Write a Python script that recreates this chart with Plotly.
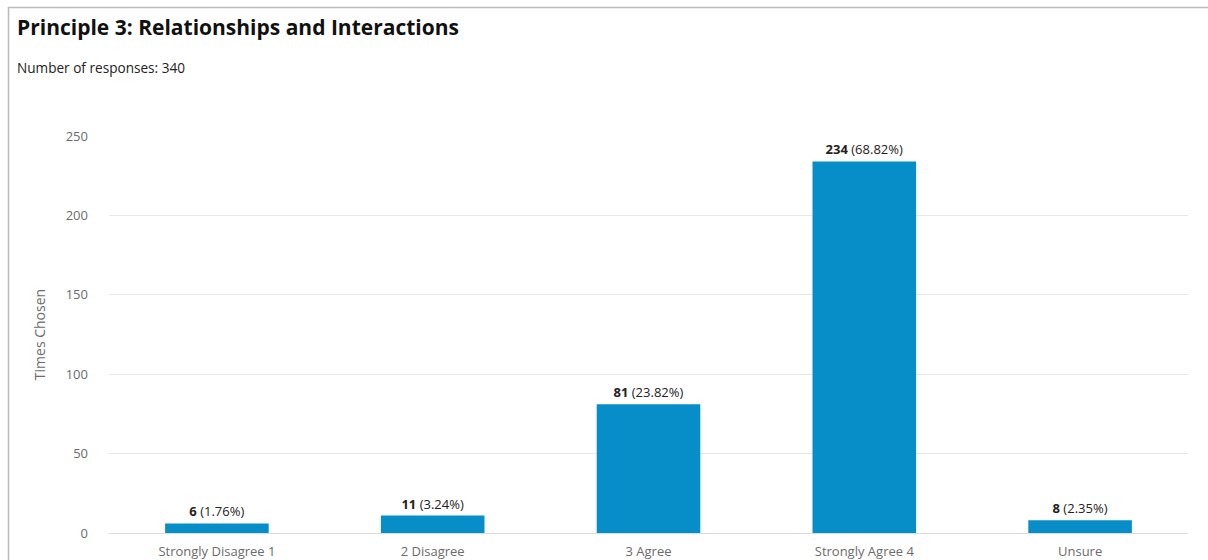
import plotly.graph_objects as go

categories = ["Strongly Disagree 1", "2 Disagree", "3 Agree", "Strongly Agree 4", "Unsure"]
counts = [6, 11, 81, 234, 8]
percents = ["1.76%", "3.24%", "23.82%", "68.82%", "2.35%"]
y_ticks = [0, 50, 100, 150, 200, 250]

labels = [f"<b>{c}</b> ({p})" for c, p in zip(counts, percents)]

W, H = 1208, 560
L, R, T, B = 109, 20, 136, 27
pw, ph = W - L - R, H - T - B

def px_to_paper_x(x):
    return (x - L) / pw

def px_to_paper_y(y):
    return (H - B - y) / ph

fig = go.Figure(go.Bar(
    x=categories, y=counts, width=0.48,
    marker=dict(color="#078ec8", line=dict(width=0)),
    text=labels, textposition="outside", cliponaxis=False,
    textfont=dict(family="Open Sans", size=13, color="#222"),
))

fig.update_layout(
    width=W, height=H,
    margin=dict(l=L, r=R, t=T, b=B, autoexpand=False),
    paper_bgcolor="white", plot_bgcolor="white",
    font=dict(family="Open Sans", color="#666"),
    showlegend=False,
    bargap=0.52,
    xaxis=dict(showgrid=False, showline=False, tickfont=dict(size=13, color="#6b6b6b"),
               ticks="", zeroline=False, ticklabelstandoff=9, automargin=False),
    yaxis=dict(range=[0, 250], tickvals=y_ticks, showgrid=True, gridcolor="#e8e8e8",
               gridwidth=1, zeroline=True, zerolinecolor="#dcdcdc", zerolinewidth=1,
               tickfont=dict(size=13, color="#6b6b6b"), ticklabelstandoff=20, automargin=False,
               title=dict(text="Times Chosen", font=dict(size=14, color="#6b6b6b"), standoff=16)),
    annotations=[
        dict(text="<b>Principle 3: Relationships and Interactions</b>", xref="paper", yref="paper",
             x=px_to_paper_x(15), y=px_to_paper_y(27), xanchor="left", yanchor="middle",
             showarrow=False, font=dict(family="Open Sans", size=21, color="#111")),
        dict(text="Number of responses: 340", xref="paper", yref="paper",
             x=px_to_paper_x(15), y=px_to_paper_y(67), xanchor="left", yanchor="middle",
             showarrow=False, font=dict(family="Open Sans", size=13.6, color="#222")),
    ],
    shapes=[
        dict(type="line", xref="paper", yref="paper", layer="above",
             x0=px_to_paper_x(8), x1=px_to_paper_x(1215), y0=px_to_paper_y(7.5), y1=px_to_paper_y(7.5),
             line=dict(color="#bbbbbb", width=1.5)),
        dict(type="line", xref="paper", yref="paper", layer="above",
             x0=px_to_paper_x(8.5), x1=px_to_paper_x(8.5), y0=px_to_paper_y(7), y1=px_to_paper_y(570),
             line=dict(color="#bbbbbb", width=1.5)),
    ],
)

fig.write_html("out.html", config={"displayModeBar": False},
               post_script="document.body.style.margin='0';document.body.style.padding='0';document.body.style.overflow='hidden';")
